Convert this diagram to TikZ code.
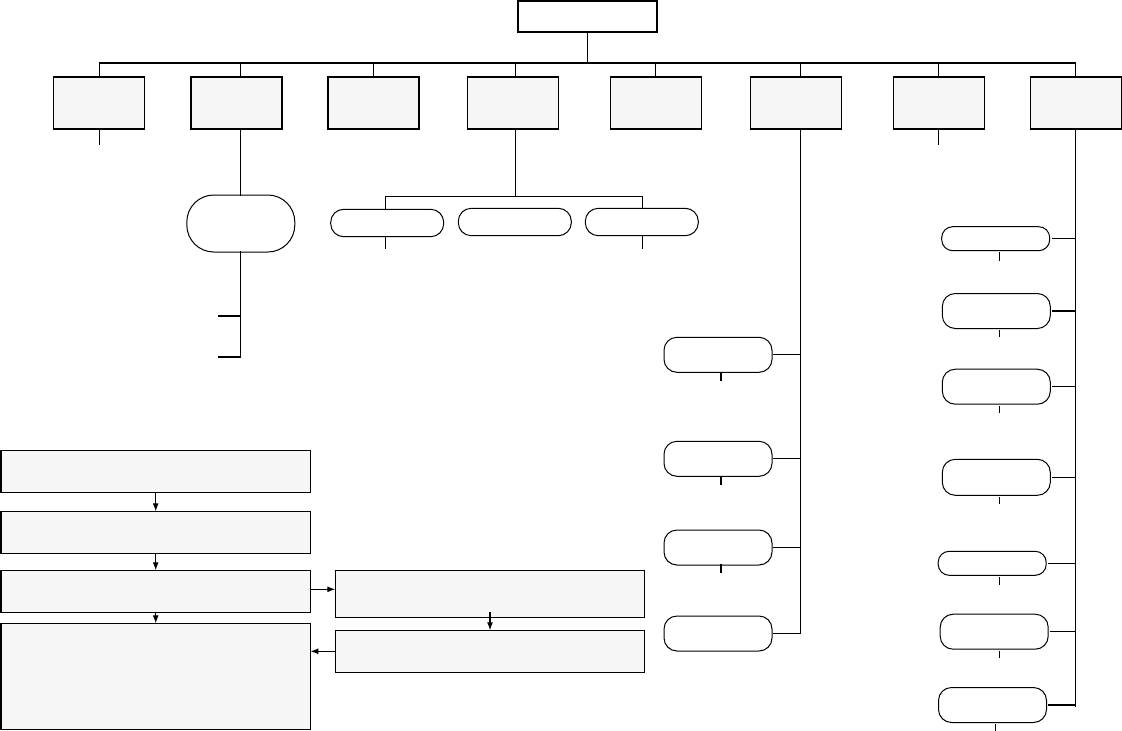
\documentclass[tikz,border=0pt]{standalone}
\usetikzlibrary{arrows.meta,calc}
\definecolor{boxfill}{HTML}{F6F6F6}
\begin{document}
\begin{tikzpicture}[x=1pt,y=-1pt,
  every node/.style={inner sep=0pt,outer sep=0pt},
  wire/.style={line width=1.15pt,black,line cap=rect},
  arr/.style={line width=1.15pt,black,-{Latex[length=8pt,width=6pt]}},
  topbox/.style={draw,line width=1.15pt,fill=boxfill,minimum width=91pt,minimum height=52pt},
  flowbox/.style={draw,line width=1.15pt,fill=boxfill,minimum width=309pt,minimum height=42pt},
  pill/.style={draw,line width=1pt,fill=white,rounded corners=13pt,minimum width=108pt,minimum height=35pt},
  thinpill/.style={draw,line width=1pt,fill=white,rounded corners=11pt,minimum width=108pt,minimum height=24pt},
  midpill/.style={draw,line width=1pt,fill=white,rounded corners=13pt,minimum width=113pt,minimum height=27.4pt},
  bigpill/.style={draw,line width=1pt,fill=white,rounded corners=27pt,minimum width=108pt,minimum height=57pt}]
\useasboundingbox (0,0) rectangle (1122,731);

% root and top row
\node[draw,line width=1.15pt,fill=white,minimum width=139pt,minimum height=31pt] (root) at (587.5,16.5) {};
\node[topbox] (b1) at (99.3,103) {};
\node[topbox] (b2) at (236.5,103) {};
\node[topbox] (b3) at (373.5,103) {};
\node[topbox] (b4) at (513,103) {};
\node[topbox] (b5) at (656,103) {};
\node[topbox] (b6) at (796,103) {};
\node[topbox] (b7) at (939,103) {};
\node[topbox] (b8) at (1075.8,103) {};

\coordinate (rj) at (587.5,63);
\coordinate (j1) at (99.3,63);
\coordinate (j2) at (240.3,63);
\coordinate (j3) at (373.3,63);
\coordinate (j4) at (515.3,63);
\coordinate (j5) at (655.3,63);
\coordinate (j6) at (800.3,63);
\coordinate (j7) at (938.3,63);
\coordinate (j8) at (1075.3,63);

\draw[wire] (root) -- (rj);
\draw[wire] (j1) -- (j8);
\foreach \i in {1,...,8}{\draw[wire] (j\i) -- (j\i |- b\i.north);}

% stubs under b1, b7
\coordinate (t1) at (99.3,144);
\coordinate (t7) at (938.3,144);
\draw[wire] (t1 |- b1.south) -- (t1);
\draw[wire] (t7 |- b7.south) -- (t7);

% branch of b2
\node[bigpill] (p2) at (240.8,223.5) {};
\draw[wire] (j2 |- b2.south) -- (j2 |- p2.north);
\coordinate (p2end) at (240.3,357);
\coordinate (k1) at (219,316);
\coordinate (k2) at (219,357);
\draw[wire] (j2 |- p2.south) -- (p2end);
\draw[wire] (k1) -- (k1 -| p2end);
\draw[wire] (k2) -- (p2end);

% branch of b4
\coordinate (q4) at (515.3,196.7);
\coordinate (q4l) at (385.3,196.7);
\coordinate (q4r) at (642.3,196.7);
\node[midpill] (s1) at (387.2,223) {};
\node[midpill] (s2) at (514.8,222) {};
\node[midpill] (s3) at (641.8,222) {};
\draw[wire] (j4 |- b4.south) -- (q4);
\draw[wire] (q4l) -- (q4r);
\draw[wire] (q4l) -- (q4l |- s1.north);
\draw[wire] (q4r) -- (q4r |- s3.north);
\coordinate (u1) at (385.3,248.3);
\coordinate (u3) at (642.3,248.3);
\draw[wire] (u1 |- s1.south) -- (u1);
\draw[wire] (u3 |- s3.south) -- (u3);

% branch of b6
\coordinate (v6) at (800.3,632.7);
\draw[wire] (j6 |- b6.south) -- (v6);
\node[pill] (A) at (718,354.8) {};
\node[pill] (B) at (718,458.8) {};
\node[pill] (C) at (718,547.5) {};
\node[pill] (D) at (718,633.5) {};
\foreach \n in {A,B,C,D}{\draw[wire] ([xshift=1.5pt]\n.east) -- (\n.east -| v6);}
\coordinate (uA) at (721,380.7);
\coordinate (uB) at (721,484);
\coordinate (uC) at (721,572.7);
\foreach \n in {A,B,C}{\draw[wire] (u\n |- \n.south) -- (u\n);}

% branch of b8
\coordinate (v8) at (1075.3,706);
\draw[wire] (j8 |- b8.south) -- (v8);
\node[thinpill] (E1) at (995.7,238.7) {};
\node[pill] (E2) at (996.3,311) {};
\node[pill] (E3) at (996.3,386.7) {};
\node[pill,minimum height=36pt] (E4) at (996.3,477.3) {};
\node[thinpill] (E5) at (992.2,563.3) {};
\node[pill] (E6) at (994.2,631.7) {};
\node[pill] (E7) at (992.5,705) {};
\foreach \n in {E1,E2,E3,E4,E5,E6,E7}{\draw[wire] ([xshift=2.5pt]\n.east) -- (\n.east -| v8);}
\coordinate (wE1) at (999.3,260.7);
\coordinate (wE2) at (999.3,336.7);
\coordinate (wE3) at (999.3,412.7);
\coordinate (wE4) at (999.3,503);
\coordinate (wE5) at (999.3,584);
\coordinate (wE6) at (999.3,657.3);
\coordinate (wE7) at (995.3,731);
\foreach \n in {E1,E2,E3,E4,E5,E6,E7}{\draw[wire] ([yshift=-2pt]w\n |- \n.south) -- (w\n);}

% flowchart
\node[flowbox,minimum width=309.5pt] (F1) at (155.7,471.3) {};
\node[flowbox,minimum width=309.5pt] (F2) at (155.7,532.3) {};
\node[flowbox,minimum width=309.5pt] (F3) at (155.7,591.3) {};
\node[flowbox,minimum width=309.5pt,minimum height=106pt] (F4) at (155.7,676.3) {};
\node[flowbox,minimum height=47pt] (G1) at (489.8,593.8) {};
\node[flowbox] (G2) at (489.8,651.3) {};
\draw[arr] (F1) -- (F2);
\draw[arr] (F2) -- (F3);
\draw[arr] (F3) -- (F4);
\coordinate (f3r) at (310.5,589.3);
\draw[arr] (f3r) -- (f3r -| G1.west);
\coordinate (g1a) at (490,612);
\draw[arr] (g1a) -- (g1a |- G2.north);
\draw[arr] (G2.west) -- (G2.west -| F4.east);
\end{tikzpicture}
\end{document}
